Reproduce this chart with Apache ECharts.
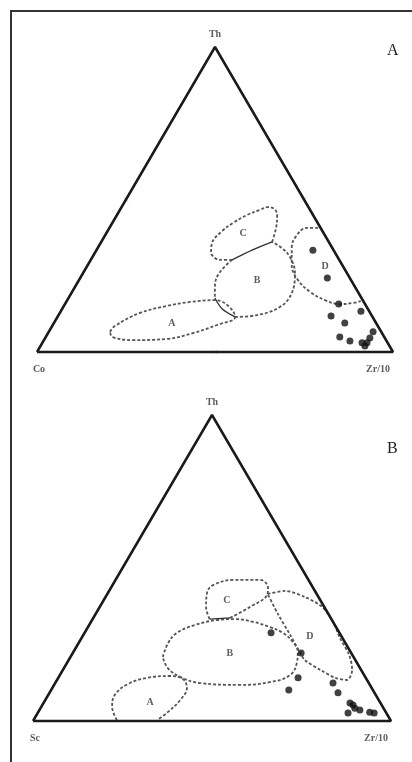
<!DOCTYPE html>
<html>
<head>
<meta charset="utf-8">
<script src="https://cdn.jsdelivr.net/npm/echarts@6/dist/echarts.min.js"></script>
<style>
  html, body { margin: 0; padding: 0; background: #fff; }
  #frame { position: absolute; left: 10px; top: 10px; width: 402px; height: 752px;
           border-left: 2px solid #333; border-top: 2px solid #333; }
  #chart { position: absolute; left: 0; top: 0; width: 412px; height: 762px; }
</style>
</head>
<body>
<div id="frame"></div>
<div id="chart"></div>
<script>
// all points are ternary values [Th %, Zr/10 %]; Co (or Sc) = 100 - Th - Zr
var corners = [[0, 0], [100, 0], [0, 100], [0, 0]];
var edgeTicksA = [[50, 0], [50, 50], [0, 50]];

// panel A : Th - Co - Zr/10
var samplesA = [[33.4, 60.8], [24.3, 69.4], [15.7, 76.9], [13.4, 84.3], [11.8, 76.7], [9.5, 81.7],
  [4.9, 82.6], [3.6, 86.1], [3.0, 89.8], [4.6, 91.2], [6.6, 91.1], [3.0, 91.2], [2.0, 91.1]];
var fieldA_A = [[6.6, 17.2], [8.5, 17.6], [12.8, 22.5], [15.1, 29.0], [16.4, 34.8], [17.0, 41.5],
  [15.1, 46.2], [11.5, 49.9], [8.9, 46.2], [6.2, 40.7], [4.3, 34.4], [3.9, 25.0], [4.9, 18.8], [6.6, 17.2]];
var fieldA_B = [[11.5, 49.9], [12.1, 55.7], [14.8, 60.9], [19.3, 61.9], [25.9, 59.5], [31.1, 55.5],
  [34.1, 51.7], [36.1, 48.0]];
var fieldA_B2 = [[30.2, 39.7], [26.2, 38.3], [22.0, 39.0], [17.7, 41.1]];
var fieldA_C = [[30.2, 39.7], [30.2, 36.3], [32.8, 32.5], [35.7, 31.3], [39.7, 32.2], [42.3, 33.9],
  [44.9, 36.5], [46.6, 39.3], [47.5, 41.1], [46.6, 43.6], [44.3, 45.3], [40.7, 46.8], [36.1, 48.0]];
var fieldA_D = [[40.7, 58.6], [40.7, 55.5], [38.0, 53.8], [34.1, 54.5], [28.5, 57.3], [23.6, 61.5],
  [19.7, 66.9], [17.0, 72.4], [15.7, 77.2], [16.1, 80.8], [16.7, 82.6]];
var joinA_BC = [[36.1, 48.0], [33.4, 43.7], [30.2, 39.7]];
var joinA_AB = [[17.7, 41.1], [14.1, 45.0], [11.5, 49.9]];
var labelsA = [['A', 9.5, 33.1], ['B', 23.6, 50.0], ['C', 39.0, 38.4], ['D', 27.9, 67.0]];

// panel B : Th - Sc - Zr/10
var samplesB = [[28.8, 52.1], [22.2, 63.8], [14.1, 67.0], [10.1, 66.4], [12.4, 77.6], [9.2, 80.6],
  [5.9, 85.6], [4.2, 87.8], [2.6, 86.7], [3.6, 89.5], [2.9, 92.6], [2.6, 94.0], [5.2, 86.8]];
var fieldB_A = [[0.3, 23.3], [4.6, 19.8], [8.5, 18.6], [12.1, 20.5], [14.1, 24.8], [14.7, 30.9],
  [13.7, 35.0], [10.8, 37.6], [6.9, 37.7], [2.9, 36.2], [0.3, 34.5]];
var fieldB_B = [[20.9, 25.8], [25.5, 25.0], [28.8, 25.8], [31.4, 29.6], [33.0, 34.9], [33.3, 39.7],
  [32.4, 45.3], [30.7, 50.8], [28.8, 55.4], [25.8, 59.7], [22.5, 62.7], [19.0, 64.2], [15.0, 64.3],
  [12.7, 59.8], [11.8, 51.9], [12.4, 40.4], [14.4, 33.9], [17.3, 29.0], [20.9, 25.8]];
var fieldB_C = [[33.7, 38.2], [37.3, 42.0], [41.2, 44.8], [43.5, 43.9], [46.1, 40.4], [46.1, 32.9],
  [44.4, 28.1], [41.8, 27.7], [37.3, 29.7], [33.3, 32.7]];
var fieldB_D = [[41.5, 44.8], [42.5, 49.2], [40.5, 55.7], [37.3, 62.1], [32.4, 67.6], [27.1, 72.2],
  [21.6, 77.5], [16.7, 80.8], [13.4, 81.0], [14.1, 77.4], [16.7, 71.9], [19.9, 66.0], [22.5, 63.3],
  [28.1, 57.8], [35.0, 50.9], [41.5, 44.8]];
var joinB_C = [[33.3, 32.7], [33.7, 38.2]];
var labelsB = [['A', 6.2, 29.6], ['B', 22.2, 43.9], ['C', 39.5, 34.4], ['D', 27.5, 63.6]];

function xy(p) { return [p[1] + p[0] / 2, p[0]]; }
function pts(arr) { return arr.map(xy); }

var labelFont = { fontFamily: 'Liberation Serif', fontWeight: 'bold', fontSize: 10, color: '#333' };

function panel(i, samples, fields, joins, labels, cornerNames, ticks) {
  var s = [];
  s.push({
    type: 'line', xAxisIndex: i, yAxisIndex: i, data: pts(corners), symbol: 'none', clip: false,
    lineStyle: { color: '#1a1a1a', width: 2.5 }, z: 3
  });
  fields.forEach(function (f) {
    s.push({
      type: 'line', xAxisIndex: i, yAxisIndex: i, data: pts(f.data), symbol: 'none', clip: false,
      smooth: f.smooth, lineStyle: { color: '#555', width: 1.8, type: [3, 2] }, z: 2
    });
  });
  joins.forEach(function (j) {
    s.push({
      type: 'line', xAxisIndex: i, yAxisIndex: i, data: pts(j), symbol: 'none', clip: false,
      smooth: 0.3, lineStyle: { color: '#333', width: 1.4 }, z: 2
    });
  });
  if (ticks) {
    s.push({
      type: 'scatter', xAxisIndex: i, yAxisIndex: i, data: pts(ticks), clip: false,
      symbol: 'path://M0,0L10,10M10,0L0,10', symbolSize: 5,
      itemStyle: { color: 'none', borderColor: '#ccc', borderWidth: 1 }, z: 1
    });
  }
  s.push({
    type: 'scatter', xAxisIndex: i, yAxisIndex: i, data: pts(samples), clip: false,
    symbolSize: 7, itemStyle: { color: '#111' }, z: 5
  });
  s.push({
    type: 'scatter', xAxisIndex: i, yAxisIndex: i, clip: false, symbolSize: 0,
    data: labels.map(function (l) { return { value: xy([l[1], l[2]]), name: l[0] }; }),
    label: Object.assign({ show: true, position: 'inside', formatter: '{b}' }, labelFont), z: 4
  });
  s.push({
    type: 'scatter', xAxisIndex: i, yAxisIndex: i, clip: false, symbolSize: 0,
    data: [
      { value: xy([100, 0]), name: cornerNames[0], label: { position: 'top', distance: 8 } },
      { value: xy([0, 0]), name: cornerNames[1], label: { position: 'bottom', distance: 12, offset: [2, 0] } },
      { value: xy([0, 100]), name: cornerNames[2], label: { position: 'bottom', distance: 12, offset: [-15, 0] } }
    ],
    label: Object.assign({ show: true, formatter: '{b}' }, labelFont), z: 4
  });
  return s;
}

var chart = echarts.init(document.getElementById('chart'));
var hidden = { type: 'value', min: 0, max: 100, show: false };
var letterStyle = { fontFamily: 'Liberation Serif', fontWeight: 'normal', fontSize: 16, color: '#222' };
chart.setOption({
  animation: false,
  title: [
    { text: 'A', left: 382, top: 38, textStyle: letterStyle },
    { text: 'B', left: 382, top: 436, textStyle: letterStyle }
  ],
  grid: [
    { left: 37, top: 47, width: 356, height: 305 },
    { left: 33, top: 415, width: 358, height: 306 }
  ],
  xAxis: [Object.assign({ gridIndex: 0 }, hidden), Object.assign({ gridIndex: 1 }, hidden)],
  yAxis: [Object.assign({ gridIndex: 0 }, hidden), Object.assign({ gridIndex: 1 }, hidden)],
  series: [].concat(
    panel(0, samplesA,
      [{ data: fieldA_A, smooth: 0.4 }, { data: fieldA_B, smooth: 0.4 }, { data: fieldA_B2, smooth: 0.4 },
       { data: fieldA_C, smooth: 0.4 }, { data: fieldA_D, smooth: 0.4 }],
      [joinA_BC, joinA_AB], labelsA, ['Th', 'Co', 'Zr/10'], edgeTicksA),
    panel(1, samplesB,
      [{ data: fieldB_A, smooth: 0.4 }, { data: fieldB_B, smooth: 0.4 },
       { data: fieldB_C, smooth: 0.4 }, { data: fieldB_D, smooth: 0.3 }],
      [joinB_C], labelsB, ['Th', 'Sc', 'Zr/10'], null)
  )
});
window.addEventListener('resize', function () { chart.resize(); });
</script>
</body>
</html>
